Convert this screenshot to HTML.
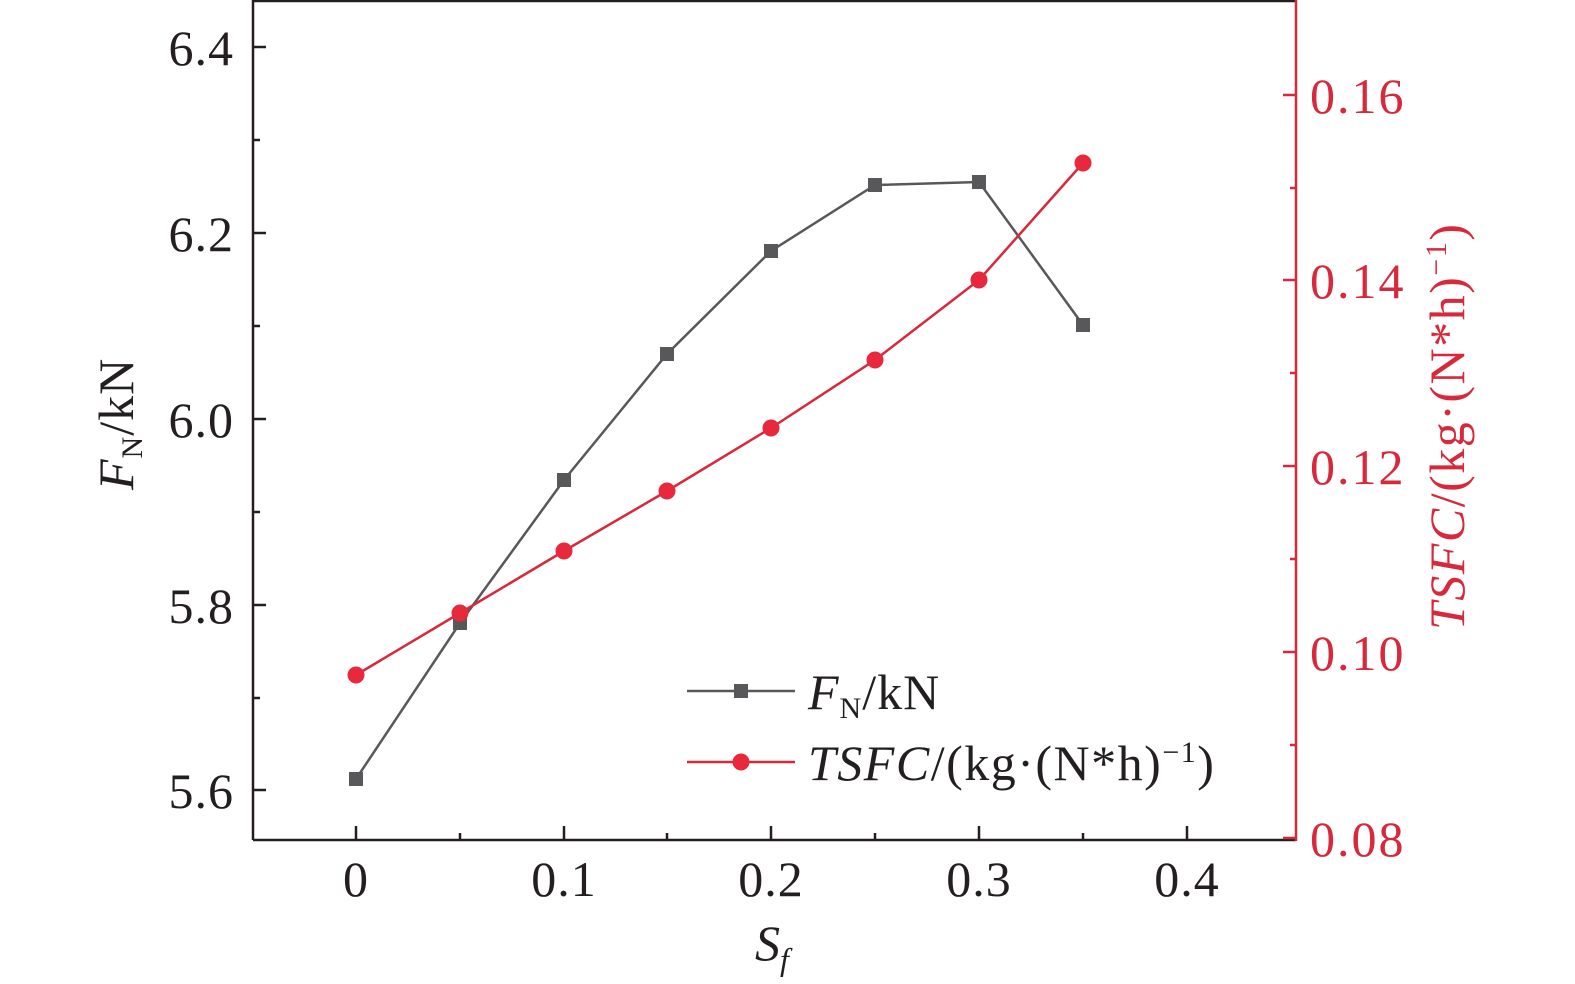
<!DOCTYPE html><html><head><style>body{margin:0;background:#fff}svg{display:block}text{font-family:"Liberation Serif",serif}</style></head><body>
<svg width="1575" height="984" viewBox="0 0 1575 984">
<g stroke="#231f20" stroke-width="2.5" fill="none">
<line x1="253" y1="1" x2="1296" y2="1"/>
<line x1="253" y1="0" x2="253" y2="840"/>
<line x1="253" y1="840" x2="1296" y2="840"/>
<path d="M356 840v-14M564 840v-14M771 840v-14M979 840v-14M1187 840v-14M460 840v-7M667 840v-7M875 840v-7M1083 840v-7"/>
<path d="M253 47h13M253 233h13M253 419h13M253 605h13M253 790h13M253 140h7M253 326h7M253 512h7M253 698h7"/>
</g>
<g stroke="#d7283c" stroke-width="2.5" fill="none">
<line x1="1296" y1="0" x2="1296" y2="841"/>
<path d="M1296 95h-13M1296 280h-13M1296 466h-13M1296 652h-13M1296 838h-13M1296 188h-6M1296 373h-6M1296 559h-6M1296 745h-6"/>
</g>
<g font-size="50" fill="#231f20" text-anchor="end" letter-spacing="1">
<text x="234" y="65">6.4</text><text x="234" y="251">6.2</text><text x="234" y="437">6.0</text><text x="234" y="623">5.8</text><text x="234" y="808">5.6</text>
</g>
<g font-size="50" fill="#231f20" text-anchor="middle" letter-spacing="1">
<text x="356" y="896">0</text><text x="564" y="896">0.1</text><text x="771" y="896">0.2</text><text x="979" y="896">0.3</text><text x="1187" y="896">0.4</text>
</g>
<g font-size="50" fill="#d7283c" letter-spacing="2">
<text x="1310" y="113">0.16</text><text x="1310" y="298">0.14</text><text x="1310" y="484">0.12</text><text x="1310" y="670">0.10</text><text x="1310" y="856">0.08</text>
</g>
<text x="755" y="960" font-size="50" font-style="italic" fill="#231f20">S<tspan font-size="32" dy="10">f</tspan></text>
<text transform="translate(133,490) rotate(-90)" font-size="50" fill="#231f20" letter-spacing="1"><tspan font-style="italic">F</tspan><tspan font-size="30" dy="9">N</tspan><tspan dy="-9">/kN</tspan></text>
<text transform="translate(1464,630) rotate(-90)" font-size="50" fill="#d7283c" letter-spacing="1.5"><tspan font-style="italic">TSFC</tspan>/(kg·(N*h)<tspan font-size="30" dy="-18">−1</tspan><tspan dy="18">)</tspan></text>
<polyline fill="none" stroke="#58585a" stroke-width="2.5" points="356,779 460,623 564,480 667,354 771,251 875,185 979,182 1083,325"/>
<g fill="#58585a">
<rect x="349" y="772" width="14" height="14"/><rect x="453" y="616" width="14" height="14"/><rect x="557" y="473" width="14" height="14"/><rect x="660" y="347" width="14" height="14"/><rect x="764" y="244" width="14" height="14"/><rect x="868" y="178" width="14" height="14"/><rect x="972" y="175" width="14" height="14"/><rect x="1076" y="318" width="14" height="14"/>
</g>
<polyline fill="none" stroke="#d7283c" stroke-width="2.5" points="356,675 460,613 564,551 667,491 771,428 875,360 979,280 1083,163"/>
<g fill="#e8283c">
<circle cx="356" cy="675" r="8.5"/><circle cx="460" cy="613" r="8.5"/><circle cx="564" cy="551" r="8.5"/><circle cx="667" cy="491" r="8.5"/><circle cx="771" cy="428" r="8.5"/><circle cx="875" cy="360" r="8.5"/><circle cx="979" cy="280" r="8.5"/><circle cx="1083" cy="163" r="8.5"/>
</g>
<line x1="687" y1="691" x2="795" y2="691" stroke="#58585a" stroke-width="2.5"/>
<rect x="734" y="684" width="14" height="14" fill="#58585a"/>
<text x="808" y="709" font-size="50" fill="#231f20" letter-spacing="1"><tspan font-style="italic">F</tspan><tspan font-size="30" dy="9">N</tspan><tspan dy="-9">/kN</tspan></text>
<line x1="687" y1="762" x2="795" y2="762" stroke="#d7283c" stroke-width="2.5"/>
<circle cx="741" cy="762" r="8.5" fill="#e8283c"/>
<text x="808" y="780" font-size="50" fill="#231f20" letter-spacing="1.5"><tspan font-style="italic">TSFC</tspan>/(kg·(N*h)<tspan font-size="30" dy="-18">−1</tspan><tspan dy="18">)</tspan></text>
</svg></body></html>
